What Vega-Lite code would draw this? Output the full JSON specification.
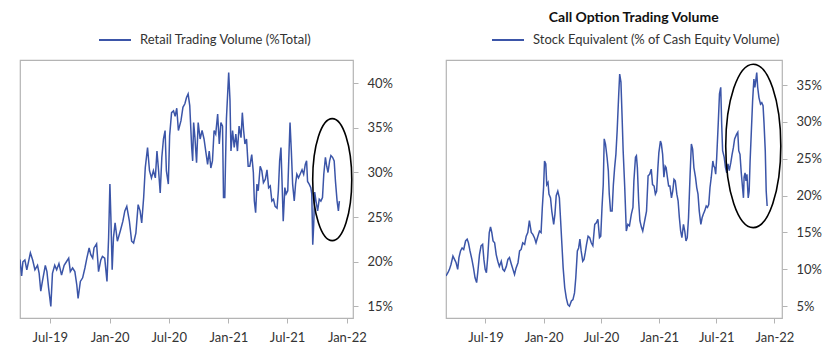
{
  "$schema": "https://vega.github.io/schema/vega-lite/v6.json",
  "background": "white",
  "padding": {"left": 19, "top": 10, "right": 5, "bottom": 5},
  "spacing": 93,
  "bounds": "flush",
  "config": {
    "font": "Lato",
    "view": {"stroke": "#b4b4b4", "strokeWidth": 1.2},
    "axis": {
      "domain": false,
      "grid": false,
      "tickColor": "#b4b4b4",
      "tickSize": 5,
      "labelFont": "Lato",
      "labelFontSize": 13,
      "labelColor": "#333333",
      "title": null
    },
    "legend": {
      "title": null,
      "labelFont": "Lato",
      "labelFontSize": 13,
      "labelColor": "#333333",
      "labelLimit": 0,
      "symbolType": "stroke",
      "symbolSize": 1024,
      "symbolStrokeWidth": 2,
      "labelOffset": 8,
      "padding": 0
    },
    "title": {"font": "Lato", "fontSize": 14, "fontWeight": "bold", "color": "#111111", "anchor": "middle", "frame": "bounds", "offset": -2}
  },
  "datasets": {
    "retail": [
      {"date": "2019-03-31", "value": 20.25},
      {"date": "2019-04-05", "value": 18.4},
      {"date": "2019-04-09", "value": 20.0},
      {"date": "2019-04-15", "value": 20.2},
      {"date": "2019-04-21", "value": 19.1},
      {"date": "2019-05-02", "value": 21.0},
      {"date": "2019-05-09", "value": 20.2},
      {"date": "2019-05-16", "value": 19.1},
      {"date": "2019-05-24", "value": 19.6},
      {"date": "2019-05-29", "value": 18.7},
      {"date": "2019-06-03", "value": 16.7},
      {"date": "2019-06-08", "value": 17.8},
      {"date": "2019-06-17", "value": 19.6},
      {"date": "2019-06-22", "value": 18.9},
      {"date": "2019-06-27", "value": 17.1},
      {"date": "2019-07-04", "value": 15.0},
      {"date": "2019-07-09", "value": 18.7},
      {"date": "2019-07-16", "value": 19.6},
      {"date": "2019-07-22", "value": 19.1},
      {"date": "2019-07-29", "value": 19.8},
      {"date": "2019-08-06", "value": 18.5},
      {"date": "2019-08-14", "value": 19.6},
      {"date": "2019-08-21", "value": 20.0},
      {"date": "2019-08-28", "value": 20.4},
      {"date": "2019-09-02", "value": 18.9},
      {"date": "2019-09-09", "value": 19.3},
      {"date": "2019-09-16", "value": 18.9},
      {"date": "2019-09-22", "value": 17.4},
      {"date": "2019-09-26", "value": 15.9},
      {"date": "2019-10-03", "value": 17.8},
      {"date": "2019-10-10", "value": 18.2},
      {"date": "2019-10-17", "value": 19.3},
      {"date": "2019-10-23", "value": 20.4},
      {"date": "2019-10-30", "value": 21.55},
      {"date": "2019-11-04", "value": 20.8},
      {"date": "2019-11-10", "value": 20.4},
      {"date": "2019-11-14", "value": 21.55},
      {"date": "2019-11-22", "value": 22.0},
      {"date": "2019-11-28", "value": 18.9},
      {"date": "2019-12-05", "value": 20.2},
      {"date": "2019-12-10", "value": 20.6},
      {"date": "2019-12-17", "value": 20.4},
      {"date": "2019-12-24", "value": 17.8},
      {"date": "2019-12-29", "value": 22.7},
      {"date": "2020-01-02", "value": 28.7},
      {"date": "2020-01-05", "value": 25.0},
      {"date": "2020-01-09", "value": 19.1},
      {"date": "2020-01-13", "value": 22.7},
      {"date": "2020-01-18", "value": 24.35},
      {"date": "2020-01-25", "value": 22.3},
      {"date": "2020-02-03", "value": 23.45},
      {"date": "2020-02-11", "value": 24.55},
      {"date": "2020-02-17", "value": 25.7},
      {"date": "2020-02-23", "value": 26.2},
      {"date": "2020-03-02", "value": 24.55},
      {"date": "2020-03-09", "value": 22.3},
      {"date": "2020-03-15", "value": 22.1},
      {"date": "2020-03-22", "value": 23.2},
      {"date": "2020-03-29", "value": 26.4},
      {"date": "2020-04-04", "value": 25.7},
      {"date": "2020-04-09", "value": 24.35},
      {"date": "2020-04-15", "value": 27.2},
      {"date": "2020-04-20", "value": 30.55},
      {"date": "2020-04-27", "value": 32.8},
      {"date": "2020-05-03", "value": 30.2},
      {"date": "2020-05-09", "value": 29.4},
      {"date": "2020-05-15", "value": 30.2},
      {"date": "2020-05-21", "value": 29.4},
      {"date": "2020-05-26", "value": 32.4},
      {"date": "2020-05-31", "value": 30.2},
      {"date": "2020-06-05", "value": 27.7},
      {"date": "2020-06-10", "value": 31.7},
      {"date": "2020-06-15", "value": 33.75},
      {"date": "2020-06-20", "value": 34.7},
      {"date": "2020-06-24", "value": 30.2},
      {"date": "2020-06-30", "value": 28.7},
      {"date": "2020-07-04", "value": 34.1},
      {"date": "2020-07-10", "value": 36.7},
      {"date": "2020-07-16", "value": 36.9},
      {"date": "2020-07-21", "value": 36.3},
      {"date": "2020-07-26", "value": 37.2},
      {"date": "2020-07-31", "value": 34.7},
      {"date": "2020-08-08", "value": 35.8},
      {"date": "2020-08-14", "value": 37.3},
      {"date": "2020-08-20", "value": 37.7},
      {"date": "2020-08-25", "value": 38.4},
      {"date": "2020-08-30", "value": 38.8},
      {"date": "2020-09-04", "value": 37.5},
      {"date": "2020-09-10", "value": 32.8},
      {"date": "2020-09-13", "value": 31.3},
      {"date": "2020-09-16", "value": 35.6},
      {"date": "2020-09-20", "value": 33.9},
      {"date": "2020-09-25", "value": 31.1},
      {"date": "2020-09-30", "value": 35.6},
      {"date": "2020-10-06", "value": 33.75},
      {"date": "2020-10-12", "value": 34.7},
      {"date": "2020-10-18", "value": 33.75},
      {"date": "2020-10-29", "value": 30.9},
      {"date": "2020-11-03", "value": 32.4},
      {"date": "2020-11-08", "value": 30.5},
      {"date": "2020-11-13", "value": 31.3},
      {"date": "2020-11-18", "value": 34.7},
      {"date": "2020-11-23", "value": 34.3},
      {"date": "2020-11-29", "value": 36.55},
      {"date": "2020-12-04", "value": 33.2},
      {"date": "2020-12-09", "value": 35.6},
      {"date": "2020-12-14", "value": 35.2},
      {"date": "2020-12-17", "value": 27.2},
      {"date": "2020-12-21", "value": 27.2},
      {"date": "2020-12-26", "value": 36.0},
      {"date": "2021-01-02", "value": 41.2},
      {"date": "2021-01-06", "value": 38.1},
      {"date": "2021-01-09", "value": 32.4},
      {"date": "2021-01-14", "value": 34.7},
      {"date": "2021-01-19", "value": 32.8},
      {"date": "2021-01-24", "value": 34.3},
      {"date": "2021-01-29", "value": 32.4},
      {"date": "2021-02-03", "value": 35.2},
      {"date": "2021-02-09", "value": 33.9},
      {"date": "2021-02-13", "value": 36.7},
      {"date": "2021-02-17", "value": 34.7},
      {"date": "2021-02-21", "value": 33.2},
      {"date": "2021-02-26", "value": 33.75},
      {"date": "2021-03-03", "value": 30.7},
      {"date": "2021-03-08", "value": 30.7},
      {"date": "2021-03-14", "value": 32.0},
      {"date": "2021-03-19", "value": 30.0},
      {"date": "2021-03-22", "value": 26.8},
      {"date": "2021-03-26", "value": 25.5},
      {"date": "2021-03-30", "value": 28.7},
      {"date": "2021-04-03", "value": 27.95},
      {"date": "2021-04-09", "value": 30.7},
      {"date": "2021-04-14", "value": 30.2},
      {"date": "2021-04-19", "value": 28.85},
      {"date": "2021-04-25", "value": 29.25},
      {"date": "2021-04-30", "value": 30.3},
      {"date": "2021-05-05", "value": 28.3},
      {"date": "2021-05-10", "value": 28.5},
      {"date": "2021-05-15", "value": 26.8},
      {"date": "2021-05-20", "value": 27.0},
      {"date": "2021-05-25", "value": 26.2},
      {"date": "2021-05-31", "value": 26.0},
      {"date": "2021-06-04", "value": 27.95},
      {"date": "2021-06-08", "value": 31.3},
      {"date": "2021-06-12", "value": 32.8},
      {"date": "2021-06-15", "value": 29.4},
      {"date": "2021-06-19", "value": 24.55},
      {"date": "2021-06-24", "value": 28.3},
      {"date": "2021-06-28", "value": 27.6},
      {"date": "2021-07-03", "value": 27.95},
      {"date": "2021-07-07", "value": 32.4},
      {"date": "2021-07-10", "value": 35.6},
      {"date": "2021-07-14", "value": 32.4},
      {"date": "2021-07-18", "value": 28.7},
      {"date": "2021-07-23", "value": 26.8},
      {"date": "2021-07-27", "value": 28.7},
      {"date": "2021-07-31", "value": 29.8},
      {"date": "2021-08-05", "value": 29.4},
      {"date": "2021-08-10", "value": 29.8},
      {"date": "2021-08-16", "value": 30.3},
      {"date": "2021-08-21", "value": 29.8},
      {"date": "2021-08-26", "value": 30.9},
      {"date": "2021-08-30", "value": 31.3},
      {"date": "2021-09-02", "value": 29.0},
      {"date": "2021-09-07", "value": 28.7},
      {"date": "2021-09-12", "value": 28.3},
      {"date": "2021-09-15", "value": 27.6},
      {"date": "2021-09-18", "value": 21.9},
      {"date": "2021-09-21", "value": 24.2},
      {"date": "2021-09-24", "value": 27.8},
      {"date": "2021-09-28", "value": 26.8},
      {"date": "2021-10-03", "value": 25.7},
      {"date": "2021-10-08", "value": 27.0},
      {"date": "2021-10-13", "value": 26.8},
      {"date": "2021-10-18", "value": 27.2},
      {"date": "2021-10-22", "value": 29.8},
      {"date": "2021-10-27", "value": 31.7},
      {"date": "2021-10-31", "value": 30.7},
      {"date": "2021-11-04", "value": 30.0},
      {"date": "2021-11-09", "value": 31.3},
      {"date": "2021-11-13", "value": 31.9},
      {"date": "2021-11-18", "value": 31.7},
      {"date": "2021-11-23", "value": 31.3},
      {"date": "2021-11-27", "value": 29.0},
      {"date": "2021-12-02", "value": 26.8},
      {"date": "2021-12-06", "value": 25.7},
      {"date": "2021-12-09", "value": 26.8}
    ],
    "calls": [
      {"date": "2019-02-26", "value": 9.1},
      {"date": "2019-03-04", "value": 9.54},
      {"date": "2019-03-09", "value": 10.0},
      {"date": "2019-03-14", "value": 10.7},
      {"date": "2019-03-20", "value": 11.8},
      {"date": "2019-03-25", "value": 11.35},
      {"date": "2019-03-30", "value": 10.9},
      {"date": "2019-04-04", "value": 10.0},
      {"date": "2019-04-08", "value": 11.6},
      {"date": "2019-04-13", "value": 12.5},
      {"date": "2019-04-18", "value": 12.9},
      {"date": "2019-04-23", "value": 12.7},
      {"date": "2019-04-29", "value": 13.85},
      {"date": "2019-05-04", "value": 14.1},
      {"date": "2019-05-08", "value": 13.6},
      {"date": "2019-05-13", "value": 12.5},
      {"date": "2019-05-19", "value": 11.35},
      {"date": "2019-05-24", "value": 10.2},
      {"date": "2019-05-29", "value": 8.86},
      {"date": "2019-06-03", "value": 8.2},
      {"date": "2019-06-07", "value": 9.77},
      {"date": "2019-06-12", "value": 12.0},
      {"date": "2019-06-17", "value": 13.2},
      {"date": "2019-06-22", "value": 13.4},
      {"date": "2019-06-26", "value": 11.35},
      {"date": "2019-06-30", "value": 10.0},
      {"date": "2019-07-04", "value": 9.54},
      {"date": "2019-07-08", "value": 11.6},
      {"date": "2019-07-13", "value": 15.0},
      {"date": "2019-07-17", "value": 15.75},
      {"date": "2019-07-21", "value": 15.0},
      {"date": "2019-07-25", "value": 13.85},
      {"date": "2019-07-30", "value": 13.6},
      {"date": "2019-08-04", "value": 12.0},
      {"date": "2019-08-09", "value": 11.1},
      {"date": "2019-08-14", "value": 10.4},
      {"date": "2019-08-20", "value": 11.1},
      {"date": "2019-08-25", "value": 10.0},
      {"date": "2019-08-30", "value": 9.77},
      {"date": "2019-09-05", "value": 10.4},
      {"date": "2019-09-10", "value": 11.35},
      {"date": "2019-09-15", "value": 11.6},
      {"date": "2019-09-21", "value": 10.7},
      {"date": "2019-09-26", "value": 10.0},
      {"date": "2019-10-01", "value": 9.3},
      {"date": "2019-10-06", "value": 10.2},
      {"date": "2019-10-12", "value": 10.9},
      {"date": "2019-10-17", "value": 12.5},
      {"date": "2019-10-22", "value": 12.7},
      {"date": "2019-10-27", "value": 13.6},
      {"date": "2019-11-02", "value": 13.4},
      {"date": "2019-11-07", "value": 14.5},
      {"date": "2019-11-12", "value": 15.0},
      {"date": "2019-11-17", "value": 16.6},
      {"date": "2019-11-23", "value": 15.0},
      {"date": "2019-11-28", "value": 14.75},
      {"date": "2019-12-03", "value": 14.3},
      {"date": "2019-12-08", "value": 13.6},
      {"date": "2019-12-14", "value": 14.5},
      {"date": "2019-12-19", "value": 15.2},
      {"date": "2019-12-24", "value": 15.0},
      {"date": "2019-12-28", "value": 18.4},
      {"date": "2020-01-01", "value": 21.1},
      {"date": "2020-01-04", "value": 24.7},
      {"date": "2020-01-08", "value": 24.3},
      {"date": "2020-01-11", "value": 21.5},
      {"date": "2020-01-15", "value": 21.8},
      {"date": "2020-01-18", "value": 20.2},
      {"date": "2020-01-23", "value": 19.7},
      {"date": "2020-01-27", "value": 17.9},
      {"date": "2020-02-02", "value": 16.1},
      {"date": "2020-02-06", "value": 17.5},
      {"date": "2020-02-10", "value": 20.0},
      {"date": "2020-02-15", "value": 20.6},
      {"date": "2020-02-20", "value": 19.7},
      {"date": "2020-02-24", "value": 16.6},
      {"date": "2020-02-28", "value": 13.4},
      {"date": "2020-03-03", "value": 10.2},
      {"date": "2020-03-08", "value": 7.5},
      {"date": "2020-03-13", "value": 6.1},
      {"date": "2020-03-18", "value": 5.2},
      {"date": "2020-03-23", "value": 5.0},
      {"date": "2020-03-29", "value": 5.7},
      {"date": "2020-04-03", "value": 5.9},
      {"date": "2020-04-08", "value": 6.8},
      {"date": "2020-04-12", "value": 8.86},
      {"date": "2020-04-17", "value": 12.5},
      {"date": "2020-04-21", "value": 12.9},
      {"date": "2020-04-25", "value": 14.1},
      {"date": "2020-04-29", "value": 12.5},
      {"date": "2020-05-04", "value": 11.1},
      {"date": "2020-05-08", "value": 11.35},
      {"date": "2020-05-12", "value": 12.3},
      {"date": "2020-05-16", "value": 13.4},
      {"date": "2020-05-21", "value": 14.5},
      {"date": "2020-05-26", "value": 14.3},
      {"date": "2020-05-31", "value": 13.6},
      {"date": "2020-06-05", "value": 13.2},
      {"date": "2020-06-11", "value": 16.1},
      {"date": "2020-06-16", "value": 16.3},
      {"date": "2020-06-21", "value": 16.8},
      {"date": "2020-06-26", "value": 14.3},
      {"date": "2020-06-30", "value": 14.5},
      {"date": "2020-07-04", "value": 18.4},
      {"date": "2020-07-08", "value": 21.5},
      {"date": "2020-07-11", "value": 27.7},
      {"date": "2020-07-15", "value": 27.0},
      {"date": "2020-07-20", "value": 25.2},
      {"date": "2020-07-24", "value": 23.4},
      {"date": "2020-07-27", "value": 20.2},
      {"date": "2020-07-31", "value": 17.9},
      {"date": "2020-08-05", "value": 17.9},
      {"date": "2020-08-09", "value": 21.5},
      {"date": "2020-08-13", "value": 23.8},
      {"date": "2020-08-17", "value": 25.6},
      {"date": "2020-08-21", "value": 28.8},
      {"date": "2020-08-26", "value": 33.8},
      {"date": "2020-08-29", "value": 36.5},
      {"date": "2020-09-02", "value": 35.4},
      {"date": "2020-09-06", "value": 30.2},
      {"date": "2020-09-09", "value": 26.1},
      {"date": "2020-09-14", "value": 21.1},
      {"date": "2020-09-19", "value": 15.2},
      {"date": "2020-09-24", "value": 16.1},
      {"date": "2020-09-29", "value": 15.9},
      {"date": "2020-10-05", "value": 17.5},
      {"date": "2020-10-10", "value": 18.4},
      {"date": "2020-10-13", "value": 22.0},
      {"date": "2020-10-18", "value": 25.2},
      {"date": "2020-10-21", "value": 25.4},
      {"date": "2020-10-24", "value": 23.8},
      {"date": "2020-10-28", "value": 19.3},
      {"date": "2020-11-01", "value": 16.6},
      {"date": "2020-11-06", "value": 15.7},
      {"date": "2020-11-10", "value": 15.2},
      {"date": "2020-11-14", "value": 16.1},
      {"date": "2020-11-18", "value": 17.0},
      {"date": "2020-11-22", "value": 17.9},
      {"date": "2020-11-27", "value": 22.7},
      {"date": "2020-12-02", "value": 22.9},
      {"date": "2020-12-07", "value": 23.6},
      {"date": "2020-12-11", "value": 21.5},
      {"date": "2020-12-16", "value": 21.3},
      {"date": "2020-12-20", "value": 20.2},
      {"date": "2020-12-24", "value": 20.6},
      {"date": "2020-12-28", "value": 23.8},
      {"date": "2020-12-31", "value": 25.8},
      {"date": "2021-01-05", "value": 27.4},
      {"date": "2021-01-08", "value": 27.0},
      {"date": "2021-01-12", "value": 25.6},
      {"date": "2021-01-16", "value": 22.5},
      {"date": "2021-01-20", "value": 24.0},
      {"date": "2021-01-23", "value": 23.8},
      {"date": "2021-01-27", "value": 22.5},
      {"date": "2021-01-31", "value": 21.3},
      {"date": "2021-02-04", "value": 21.3},
      {"date": "2021-02-09", "value": 19.7},
      {"date": "2021-02-13", "value": 20.6},
      {"date": "2021-02-17", "value": 22.2},
      {"date": "2021-02-21", "value": 22.0},
      {"date": "2021-02-26", "value": 20.2},
      {"date": "2021-03-02", "value": 19.3},
      {"date": "2021-03-06", "value": 17.0},
      {"date": "2021-03-10", "value": 15.2},
      {"date": "2021-03-14", "value": 14.3},
      {"date": "2021-03-19", "value": 16.1},
      {"date": "2021-03-23", "value": 15.2},
      {"date": "2021-03-27", "value": 13.85},
      {"date": "2021-03-31", "value": 14.3},
      {"date": "2021-04-04", "value": 17.0},
      {"date": "2021-04-09", "value": 22.9},
      {"date": "2021-04-13", "value": 27.0},
      {"date": "2021-04-17", "value": 26.3},
      {"date": "2021-04-21", "value": 23.8},
      {"date": "2021-04-26", "value": 22.5},
      {"date": "2021-04-30", "value": 21.1},
      {"date": "2021-05-04", "value": 20.2},
      {"date": "2021-05-08", "value": 17.9},
      {"date": "2021-05-13", "value": 16.1},
      {"date": "2021-05-17", "value": 17.0},
      {"date": "2021-05-21", "value": 17.5},
      {"date": "2021-05-25", "value": 17.9},
      {"date": "2021-05-30", "value": 18.6},
      {"date": "2021-06-03", "value": 18.4},
      {"date": "2021-06-07", "value": 18.8},
      {"date": "2021-06-11", "value": 21.1},
      {"date": "2021-06-15", "value": 22.5},
      {"date": "2021-06-20", "value": 24.7},
      {"date": "2021-06-23", "value": 24.0},
      {"date": "2021-06-26", "value": 23.8},
      {"date": "2021-06-29", "value": 22.9},
      {"date": "2021-07-02", "value": 25.0},
      {"date": "2021-07-07", "value": 29.7},
      {"date": "2021-07-11", "value": 33.8},
      {"date": "2021-07-15", "value": 34.7},
      {"date": "2021-07-18", "value": 29.7},
      {"date": "2021-07-21", "value": 26.1},
      {"date": "2021-07-26", "value": 25.2},
      {"date": "2021-07-30", "value": 23.8},
      {"date": "2021-08-03", "value": 23.1},
      {"date": "2021-08-07", "value": 24.3},
      {"date": "2021-08-11", "value": 23.4},
      {"date": "2021-08-16", "value": 24.5},
      {"date": "2021-08-20", "value": 25.6},
      {"date": "2021-08-24", "value": 26.5},
      {"date": "2021-08-28", "value": 27.7},
      {"date": "2021-09-03", "value": 28.3},
      {"date": "2021-09-07", "value": 28.6},
      {"date": "2021-09-10", "value": 26.1},
      {"date": "2021-09-14", "value": 25.6},
      {"date": "2021-09-18", "value": 23.1},
      {"date": "2021-09-22", "value": 21.1},
      {"date": "2021-09-25", "value": 19.7},
      {"date": "2021-09-27", "value": 22.5},
      {"date": "2021-09-30", "value": 23.1},
      {"date": "2021-10-03", "value": 22.0},
      {"date": "2021-10-06", "value": 22.9},
      {"date": "2021-10-10", "value": 19.7},
      {"date": "2021-10-13", "value": 20.6},
      {"date": "2021-10-16", "value": 24.7},
      {"date": "2021-10-20", "value": 28.8},
      {"date": "2021-10-24", "value": 32.9},
      {"date": "2021-10-28", "value": 35.8},
      {"date": "2021-10-31", "value": 34.7},
      {"date": "2021-11-03", "value": 35.6},
      {"date": "2021-11-06", "value": 36.7},
      {"date": "2021-11-09", "value": 34.7},
      {"date": "2021-11-13", "value": 33.3},
      {"date": "2021-11-18", "value": 32.4},
      {"date": "2021-11-22", "value": 32.6},
      {"date": "2021-11-26", "value": 32.2},
      {"date": "2021-11-29", "value": 29.9},
      {"date": "2021-12-03", "value": 26.1},
      {"date": "2021-12-06", "value": 20.6},
      {"date": "2021-12-09", "value": 18.6}
    ],
    "retailNote": [{"date": "2021-11-17", "value": 29.2}],
    "callsNote": [{"date": "2021-10-26", "value": 26.75}]
  },
  "hconcat": [
    {
      "width": 333,
      "height": 258,
      "layer": [
        {
          "data": {"name": "retail"},
          "transform": [{"calculate": "'Retail Trading Volume (%Total)'", "as": "series"}],
          "mark": {"type": "line", "strokeWidth": 1.5, "clip": true},
          "encoding": {
            "x": {
              "field": "date", "type": "temporal",
              "scale": {"domain": [{"year": 2019, "month": 3, "date": 31}, {"year": 2022, "month": 1, "date": 20}]},
              "axis": {"format": "%b-%y", "labelPadding": 8,
                "values": [{"year": 2019, "month": 7, "date": 1}, {"year": 2020, "month": 1, "date": 1}, {"year": 2020, "month": 7, "date": 1}, {"year": 2021, "month": 1, "date": 1}, {"year": 2021, "month": 7, "date": 1}, {"year": 2022, "month": 1, "date": 1}]}
            },
            "y": {
              "field": "value", "type": "quantitative",
              "scale": {"domain": [13.7, 42.6], "nice": false, "zero": false},
              "axis": {"orient": "right", "values": [15, 20, 25, 30, 35, 40], "labelExpr": "datum.value + '%'", "labelPadding": 9}
            },
            "color": {"field": "series", "type": "nominal", "scale": {"range": ["#3b55a8"]},
              "legend": {"orient": "none", "legendX": 78, "legendY": -37}}
          }
        },
        {
          "data": {"name": "retailNote"},
          "mark": {"type": "point", "filled": false, "stroke": "black", "strokeWidth": 1.6, "opacity": 1, "size": 14900,
            "shape": "M0,-1C0.1767,-1,0.32,-0.5523,0.32,0C0.32,0.5523,0.1767,1,0,1C-0.1767,1,-0.32,0.5523,-0.32,0C-0.32,-0.5523,-0.1767,-1,0,-1Z"},
          "encoding": {
            "x": {"field": "date", "type": "temporal"},
            "y": {"field": "value", "type": "quantitative"}
          }
        }
      ]
    },
    {
      "width": 336,
      "height": 258,
      "title": "Call Option Trading Volume",
      "layer": [
        {
          "data": {"name": "calls"},
          "transform": [{"calculate": "'Stock Equivalent (% of Cash Equity Volume)'", "as": "series"}],
          "mark": {"type": "line", "strokeWidth": 1.5, "clip": true},
          "encoding": {
            "x": {
              "field": "date", "type": "temporal",
              "scale": {"domain": [{"year": 2019, "month": 2, "date": 26}, {"year": 2022, "month": 1, "date": 25}]},
              "axis": {"format": "%b-%y", "labelPadding": 8,
                "values": [{"year": 2019, "month": 7, "date": 1}, {"year": 2020, "month": 1, "date": 1}, {"year": 2020, "month": 7, "date": 1}, {"year": 2021, "month": 1, "date": 1}, {"year": 2021, "month": 7, "date": 1}, {"year": 2022, "month": 1, "date": 1}]}
            },
            "y": {
              "field": "value", "type": "quantitative",
              "scale": {"domain": [3.4, 38.4], "nice": false, "zero": false},
              "axis": {"orient": "right", "values": [5, 10, 15, 20, 25, 30, 35], "labelExpr": "datum.value + '%'", "labelPadding": 9}
            },
            "color": {"field": "series", "type": "nominal", "scale": {"range": ["#3b55a8"]},
              "legend": {"orient": "none", "legendX": 45, "legendY": -37}}
          }
        },
        {
          "data": {"name": "callsNote"},
          "mark": {"type": "point", "filled": false, "stroke": "black", "strokeWidth": 1.6, "opacity": 1, "size": 26700,
            "shape": "M0,-1C0.1861,-1,0.337,-0.5523,0.337,0C0.337,0.5523,0.1861,1,0,1C-0.1861,1,-0.337,0.5523,-0.337,0C-0.337,-0.5523,-0.1861,-1,0,-1Z"},
          "encoding": {
            "x": {"field": "date", "type": "temporal"},
            "y": {"field": "value", "type": "quantitative"}
          }
        }
      ]
    }
  ],
  "resolve": {"scale": {"color": "independent", "x": "independent", "y": "independent"}, "legend": {"color": "independent"}}
}
